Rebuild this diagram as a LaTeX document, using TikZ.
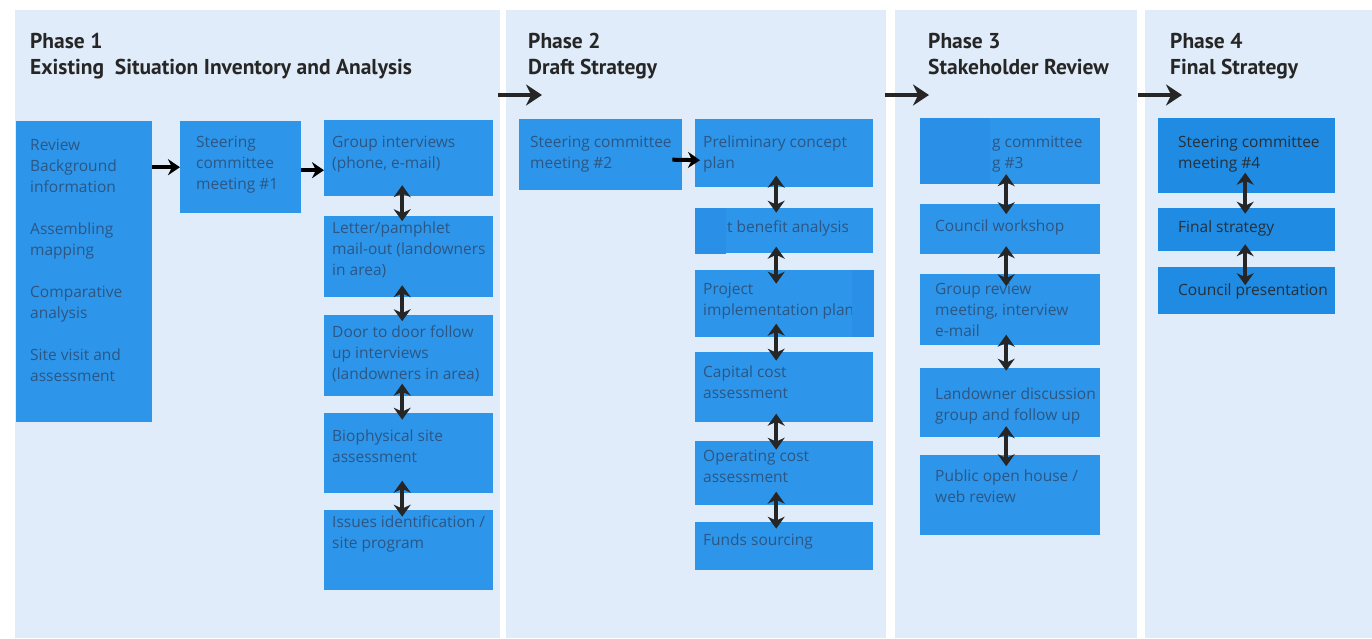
\documentclass[tikz,border=0pt]{standalone}
\usepackage{fontspec}
\setmainfont{Open Sans}
\newfontfamily\hdfont{PT Sans}
\usetikzlibrary{arrows.meta,calc}
\definecolor{panelc}{HTML}{E0ECF9}
\definecolor{boxb}{HTML}{2E96EA}
\definecolor{boxd}{HTML}{1F8BE2}
\definecolor{patchc}{HTML}{2A8FE6}
\definecolor{txtc}{HTML}{2C5684}
\definecolor{hdc}{HTML}{262626}
\begin{document}
\begin{tikzpicture}[x=1pt,y=-1pt,
 panel/.style={fill=panelc, draw=none},
 box/.style={fill=boxb, draw=none, inner sep=0pt, anchor=north west},
 boxf/.style={fill=boxd, draw=none, inner sep=0pt, anchor=north west},
 lbl/.style={anchor=north west, align=left, inner sep=0pt, text=txtc, font=\fontsize{15.5}{21}\selectfont},
 hdr/.style={anchor=north west, align=left, inner sep=0pt, text=hdc, font=\hdfont\bfseries\fontsize{21.5}{26}\selectfont},
 arr/.style={-{Stealth[length=12pt,width=16pt]}, line width=4pt, draw=black},
 dbl/.style={{Stealth[length=12pt,width=17pt]}-{Stealth[length=12pt,width=17pt]}, line width=4pt, draw=black!85},
 big/.style={-{Stealth[length=16pt,width=21pt]}, line width=4.5pt, draw=hdc}]
\useasboundingbox[fill=white] (0,0) rectangle (1372,638);
% panels
\node[panel, anchor=north west, inner sep=0pt, minimum width=485pt, minimum height=628pt] (p1) at (15,10) {};
\node[panel, anchor=north west, inner sep=0pt, minimum width=380pt, minimum height=628pt] (p2) at (506,10) {};
\node[panel, anchor=north west, inner sep=0pt, minimum width=242pt, minimum height=628pt] (p3) at (895,10) {};
\node[panel, anchor=north west, inner sep=0pt, minimum width=227pt, minimum height=628pt] (p4) at (1145,10) {};
% headers
\node[hdr] (h1) at (30,33) {Phase 1\\Existing\ \ Situation Inventory and Analysis};
\node[hdr] (h2) at (528,33) {Phase 2\\Draft Strategy};
\node[hdr] (h3) at (928,33) {Phase 3\\Stakeholder Review};
\node[hdr] (h4) at (1170,33) {Phase 4\\Final Strategy};
% big arrows
\coordinate (a12s) at (498,95); \coordinate (a12e) at (542,95);
\coordinate (a23s) at (885,95); \coordinate (a23e) at (929,95);
\coordinate (a34s) at (1138,95); \coordinate (a34e) at (1182,95);
\draw[big] (a12s) -- (a12e);
\draw[big] (a23s) -- (a23e);
\draw[big] (a34s) -- (a34e);
% ---------- Phase 1
\node[box, minimum width=136pt, minimum height=301pt] (rev) at (16,121) {};
\node[lbl] (revt) at (30,139) {Review\\Background\\information\\[21pt]Assembling\\mapping\\[21pt]Comparative\\analysis\\[21pt]Site visit and\\assessment};
\node[box, minimum width=121pt, minimum height=92pt] (st1) at (180,121) {};
\node[lbl] (st1t) at (196,136) {Steering\\committee\\meeting \#1};
\node[box, minimum width=169pt, minimum height=76pt] (gi) at (324,120) {};
\node[lbl] (git) at (332,136) {Group interviews\\(phone, e-mail)};
\node[box, minimum width=169pt, minimum height=81pt] (lp) at (324,216) {};
\node[lbl] (lpt) at (332,222) {Letter/pamphlet\\mail-out (landowners\\in area)};
\node[box, minimum width=169pt, minimum height=81pt] (dd) at (324,315) {};
\node[lbl] (ddt) at (332,325) {Door to door follow\\up interviews\\(landowners in area)};
\node[box, minimum width=169pt, minimum height=80pt] (bio) at (324,413) {};
\node[lbl] (biot) at (332,430) {Biophysical site\\assessment};
\node[box, minimum width=169pt, minimum height=80pt] (iss) at (324,510) {};
\node[lbl] (isst) at (332,515) {Issues identification /\\site program};
\draw[arr] (rev.east |- st1.west) -- (st1.west);
\draw[arr] ($(st1.east)+(0,3)$) -- ($(st1.east -| gi.west)+(0,3)$);
\draw[dbl] ($(gi.south)!.5!(lp.north)+(-6.5,-21)$) -- ($(gi.south)!.5!(lp.north)+(-6.5,15)$);
\draw[dbl] ($(lp.south)!.5!(dd.north)+(-6.5,-21)$) -- ($(lp.south)!.5!(dd.north)+(-6.5,15)$);
\draw[dbl] ($(dd.south)!.5!(bio.north)+(-6.5,-21)$) -- ($(dd.south)!.5!(bio.north)+(-6.5,15)$);
\draw[dbl] ($(bio.south)!.5!(iss.north)+(-6.5,-21)$) -- ($(bio.south)!.5!(iss.north)+(-6.5,15)$);
% ---------- Phase 2
\node[box, minimum width=163pt, minimum height=71pt] (st2) at (519,119) {};
\node[lbl] (st2t) at (530,136) {Steering committee\\meeting \#2};
\node[box, minimum width=178pt, minimum height=68pt] (pre) at (695,119) {};
\node[lbl] (pret) at (703,136) {Preliminary concept\\plan};
\node[box, minimum width=178pt, minimum height=45pt] (cb) at (695,208) {};
\node[fill=patchc, inner sep=0pt, anchor=north west, minimum width=31pt, minimum height=46pt] (cbp) at (695,208) {};
\node[lbl] (cbt) at (727,220) {t benefit analysis};
\node[box, minimum width=178pt, minimum height=67pt] (pip) at (695,270) {};
\node[lbl] (pipt) at (703,283) {Project\\implementation plan};
\node[fill=patchc, inner sep=0pt, anchor=north west, minimum width=22pt, minimum height=67pt] (pipp) at (852,270) {};
\node[box, minimum width=178pt, minimum height=70pt] (cap) at (695,352) {};
\node[lbl] (capt) at (703,366) {Capital cost\\assessment};
\node[box, minimum width=178pt, minimum height=64pt] (opc) at (695,441) {};
\node[lbl] (opct) at (703,450) {Operating cost\\assessment};
\node[box, minimum width=178pt, minimum height=48pt] (fs) at (695,522) {};
\node[lbl] (fst) at (703,534) {Funds sourcing};
\draw[arr] ($(st2.east)+(-10,5)$) -- ($(pre.west)+(5,7)$);
\draw[dbl] ($(pre.south)!.5!(cb.north)+(-8,-22)$) -- ($(pre.south)!.5!(cb.north)+(-8,15)$);
\draw[dbl] ($(cb.south)!.5!(pip.north)+(-8,-15)$) -- ($(cb.south)!.5!(pip.north)+(-8,22)$);
\draw[dbl] ($(pip.south)!.5!(cap.north)+(-8,-21)$) -- ($(pip.south)!.5!(cap.north)+(-8,16)$);
\draw[dbl] ($(cap.south)!.5!(opc.north)+(-8,-18)$) -- ($(cap.south)!.5!(opc.north)+(-8,18)$);
\draw[dbl] ($(opc.south)!.5!(fs.north)+(-8,-22)$) -- ($(opc.south)!.5!(fs.north)+(-8,15)$);
% ---------- Phase 3
\node[box, minimum width=180pt, minimum height=66pt] (st3) at (920,118) {};
\node[fill=patchc, inner sep=0pt, anchor=north west, minimum width=70pt, minimum height=66pt] (st3p) at (920,118) {};
\node[lbl] (st3t) at (992,136) {g committee\\g \#3};
\node[box, minimum width=180pt, minimum height=50pt] (cw) at (920,204) {};
\node[lbl] (cwt) at (935,220) {Council workshop};
\node[box, minimum width=180pt, minimum height=71pt] (gr) at (920,274) {};
\node[lbl] (grt) at (935,283) {Group review\\meeting, interview\\e-mail};
\node[box, minimum width=180pt, minimum height=69pt] (ld) at (920,368) {};
\node[lbl] (ldt) at (935,388) {Landowner discussion\\group and follow up};
\node[box, minimum width=180pt, minimum height=80pt] (poh) at (920,455) {};
\node[lbl] (poht) at (935,470) {Public open house /\\web review};
\draw[dbl] ($(st3.south)!.5!(cw.north)+(-4,-20)$) -- ($(st3.south)!.5!(cw.north)+(-4,20)$);
\draw[dbl] ($(cw.south)!.5!(gr.north)+(-4,-18)$) -- ($(cw.south)!.5!(gr.north)+(-4,22)$);
\draw[dbl] ($(gr.south)!.5!(ld.north)+(-4,-22)$) -- ($(gr.south)!.5!(ld.north)+(-4,14)$);
\draw[dbl] ($(ld.south)!.5!(poh.north)+(-4,-20)$) -- ($(ld.south)!.5!(poh.north)+(-4,20)$);
% ---------- Phase 4
\node[boxf, minimum width=177pt, minimum height=75pt] (st4) at (1158,118) {};
\node[lbl, text=hdc!80!txtc] (st4t) at (1178,136) {Steering committee\\meeting \#4};
\node[boxf, minimum width=177pt, minimum height=43pt] (fin) at (1158,208) {};
\node[lbl, text=hdc!80!txtc] (fint) at (1178,221) {Final strategy};
\node[boxf, minimum width=177pt, minimum height=47pt] (cp) at (1158,267) {};
\node[lbl, text=hdc!80!txtc] (cpt) at (1178,284) {Council presentation};
\draw[dbl] ($(st4.south)!.5!(fin.north)+(-1.5,-28)$) -- ($(st4.south)!.5!(fin.north)+(-1.5,13)$);
\draw[dbl] ($(fin.south)!.5!(cp.north)+(-1.5,-15)$) -- ($(fin.south)!.5!(cp.north)+(-1.5,26)$);
\end{tikzpicture}
\end{document}
